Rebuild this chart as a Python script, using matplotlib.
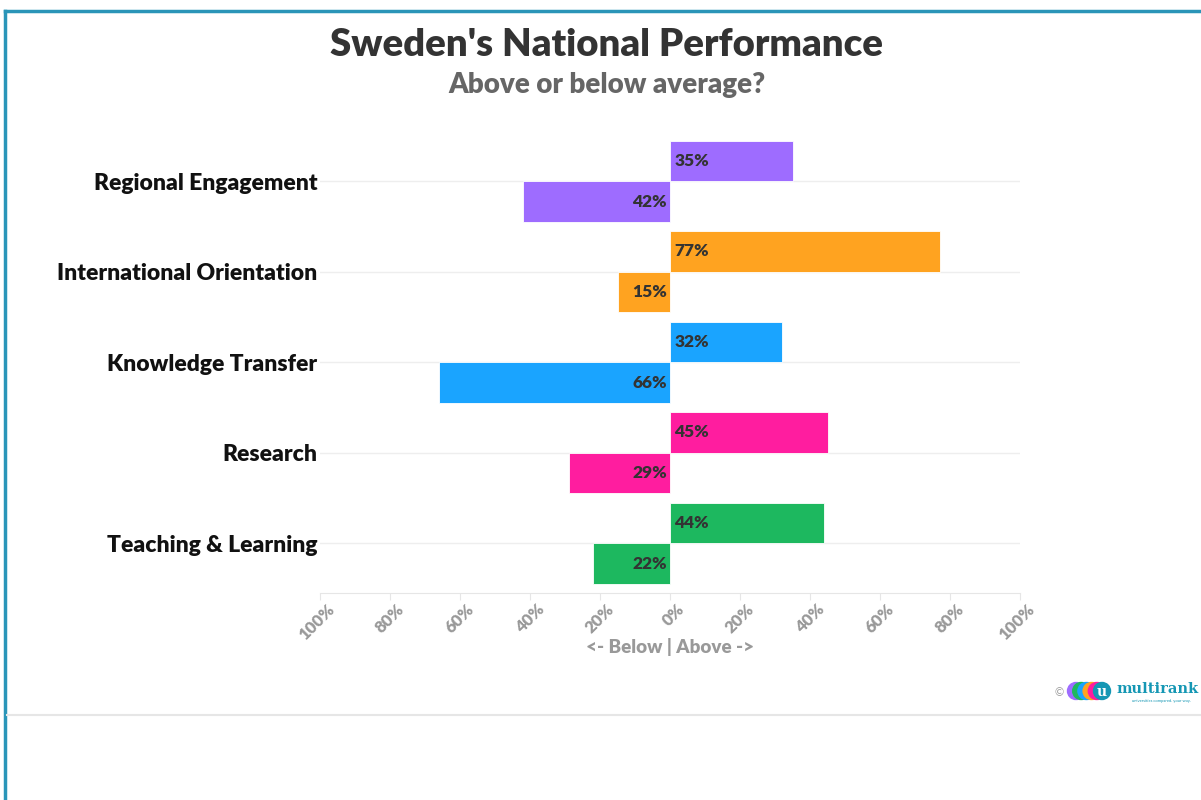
import numpy as np
import matplotlib
matplotlib.use("Agg")
import matplotlib.pyplot as plt
import matplotlib.transforms as mtransforms
from matplotlib.patches import Ellipse
from matplotlib.lines import Line2D

plt.rcParams['font.family'] = ['Lato', 'DejaVu Sans']

categories = ['Regional Engagement', 'International Orientation',
              'Knowledge Transfer', 'Research', 'Teaching & Learning']
above = [35, 77, 32, 45, 44]
below = [42, 15, 66, 29, 22]
colors = ['#9e6cff', '#ffa320', '#1aa4ff', '#ff1d9f', '#1db85f']
ticks = [-100, -80, -60, -40, -20, 0, 20, 40, 60, 80, 100]
tick_labels = ['%d%%' % abs(t) for t in ticks]

W, H = 1201, 800
fig = plt.figure(figsize=(W / 100, H / 100), dpi=100)

# axes placed in pixel terms: x from 320 to 1020, y from 136 to 593
ax = fig.add_axes([320 / W, 1 - 593 / H, 700 / W, 457 / H])
y = np.arange(len(categories))

ax.barh(y, above, height=-0.45, align='edge', color=colors,
        edgecolor='white', linewidth=0.6, zorder=3)
ax.barh(y, [-v for v in below], height=0.45, align='edge', color=colors,
        edgecolor='white', linewidth=0.6, zorder=3)

for i in range(len(categories)):
    ax.text(1.2, i - 0.225, '%d%%' % above[i], ha='left', va='center',
            fontsize=12.5, fontweight='heavy', color='#333333', zorder=4)
    ax.text(-0.8, i + 0.225, '%d%%' % below[i], ha='right', va='center',
            fontsize=12.5, fontweight='heavy', color='#333333', zorder=4)

ax.set_xlim(-100, 100)
ax.set_ylim(4.55, -0.5)

# gridlines at each category
for i in y:
    ax.axhline(i, color='#eeeeee', linewidth=1, zorder=1)

ax.set_yticks(y)
ax.set_yticklabels(categories, fontsize=16.5, fontweight='heavy', color='#111111')
ax.tick_params(axis='y', length=0, pad=2)

ax.set_xticks(ticks)
ax.set_xticklabels(tick_labels, rotation=45, ha='right', rotation_mode='anchor',
                   fontsize=12, fontweight='heavy', color='#999999')
ax.tick_params(axis='x', length=5, color='#e6e6e6', pad=1)
shift = mtransforms.ScaledTranslation(6 / 100, 0, fig.dpi_scale_trans)
for lbl in ax.get_xticklabels():
    lbl.set_transform(lbl.get_transform() + shift)

for s in ['top', 'right', 'left']:
    ax.spines[s].set_visible(False)
ax.spines['bottom'].set_color('#e6e6e6')
ax.set_xlabel('<- Below | Above ->', fontsize=13.5, fontweight='heavy',
              color='#999999', labelpad=-4)

fig.text(607 / W, 1 - 45 / H, "Sweden's National Performance", ha='center',
         va='center', fontsize=27.5, fontweight='heavy', color='#333333')
fig.text(607 / W, 1 - 85 / H, 'Above or below average?', ha='center',
         va='center', fontsize=20, fontweight='heavy', color='#666666')

# frame lines
border = '#2a95b8'
fig.add_artist(Line2D([5 / W, 1], [1 - 11 / H, 1 - 11 / H], color=border,
                      linewidth=2.5, transform=fig.transFigure))
fig.add_artist(Line2D([5 / W, 5 / W], [0, 1 - 11 / H], color=border,
                      linewidth=2.5, transform=fig.transFigure))
fig.add_artist(Line2D([7 / W, 1], [1 - 715 / H, 1 - 715 / H], color='#e6e6e6',
                      linewidth=1.5, transform=fig.transFigure))

# small multirank logo
fig.text(1059 / W, 1 - 693 / H, '\u00a9', ha='center', va='center',
         fontsize=8, color='#999999')
logo_cols = ['#9e6cff', '#1db85f', '#1aa4ff', '#ffa320', '#ff1d9f', '#1597b4']
for k, c in enumerate(logo_cols):
    cx = (1076 + k * 5.2) / W
    fig.add_artist(Ellipse((cx, 1 - 691 / H), 17 / W, 17 / H, color=c,
                           transform=fig.transFigure))
fig.text(1102 / W, 1 - 692 / H, 'u', ha='center', va='center', fontsize=10,
         fontweight='bold', color='white', family='DejaVu Serif')
fig.text(1116 / W, 1 - 689 / H, 'multirank', ha='left', va='center',
         fontsize=10.5, fontweight='bold', color='#1597b4', family='DejaVu Serif')
fig.text(1132 / W, 1 - 701 / H, 'universities compared. your way.', ha='left',
         va='center', fontsize=3, color='#1597b4')

fig.savefig('out.png', dpi=100, facecolor='white')
